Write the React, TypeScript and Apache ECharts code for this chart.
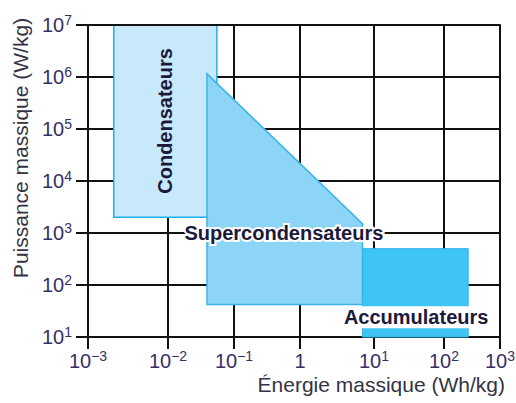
import { useEffect, useRef } from 'react';
import * as echarts from 'echarts';

// ---- Data -------------------------------------------------------------
// Energy axis decades (exponents of 10, Wh/kg) and power axis decades (W/kg)
const xTickExponents = [-3, -2, -1, 0, 1, 2, 3];
const yTickExponents = [1, 2, 3, 4, 5, 6, 7];
// The original figure's energy axis is hand drawn with unequal decade widths;
// cumulative decade widths (relative units) used as the axis scale.
const xDecadeScale = [0, 80, 146, 212, 286, 356, 412];

// Regions: [energy Wh/kg, power W/kg] vertices
const condensateurs = [
  [0.0021, 2000],
  [0.0021, 1e7],
  [0.055, 1e7],
  [0.055, 2000],
];
const supercondensateurs = [
  [0.039, 1.15e6],
  [7, 1500],
  [7, 42],
  [0.039, 42],
];
const accumulateurs = [
  [7, 10],
  [7, 500],
  [270, 500],
  [270, 10],
];
const regionNames = ['Condensateurs', 'Supercondensateurs', 'Accumulateurs'];
const regionLabelPoints = [
  [0.0092, 1.43e5],
  [0.57, 1000],
  [40, 24],
];

const xTitle = 'Énergie massique (Wh/kg)';
const yTitle = 'Puissance massique (W/kg)';

// ---- Helpers ----------------------------------------------------------
function warpX(e: number): number {
  const l = Math.log10(e);
  let i = Math.floor(l - xTickExponents[0]);
  if (i < 0) i = 0;
  if (i > xTickExponents.length - 2) i = xTickExponents.length - 2;
  const t = l - xTickExponents[i];
  return xDecadeScale[i] + t * (xDecadeScale[i + 1] - xDecadeScale[i]);
}

function supText(exp: number): string {
  if (exp === 0) return '{b|1}';
  const s = exp < 0 ? '\u2212' + -exp : String(exp);
  return '{b|10}{s|' + s + '}';
}

const TICK_FONT = "'Liberation Sans Narrow', 'Arial Narrow', 'Liberation Sans', Arial, sans-serif";
const FONT = "'Liberation Sans', Arial, sans-serif";
const tickColor = '#362f66';
const lineColor = '#111111';

const rich = {
  b: { fontSize: 20, lineHeight: 24, fontFamily: TICK_FONT, color: tickColor },
  s: { fontSize: 14, lineHeight: 14, fontFamily: TICK_FONT, color: tickColor, verticalAlign: 'top' },
};

function regionSeries(name: string, pts: number[][], fill: string, stroke: string, lw: number, z: number) {
  return {
    type: 'custom',
    name,
    xAxisIndex: 0,
    yAxisIndex: 0,
    silent: true,
    z,
    data: pts.map(([e, p]) => [warpX(e), p]),
    renderItem: (params: any, api: any) => {
      if (params.dataIndex !== 0) return null;
      const points = pts.map(([e, p]) => api.coord([warpX(e), p]));
      return {
        type: 'polygon',
        shape: { points },
        style: { fill, stroke, lineWidth: lw, lineJoin: 'miter' },
      };
    },
  };
}

export default function App() {
  const ref = useRef<HTMLDivElement>(null);

  useEffect(() => {
    if (!ref.current) return;
    const chart = echarts.init(ref.current, null, { renderer: 'svg' });

    const option: any = {
      animation: false,
      backgroundColor: '#ffffff',
      textStyle: { fontFamily: FONT },
      grid: {
        left: 88,
        right: 16,
        top: 25,
        bottom: 66,
        containLabel: false,
        outerBoundsMode: 'none',
      },
      xAxis: [
        {
          type: 'value',
          min: 0,
          max: xDecadeScale[xDecadeScale.length - 1],
          position: 'bottom',
          axisLine: { show: true, onZero: false, lineStyle: { color: lineColor, width: 2 } },
          axisTick: {
            show: true,
            length: 12,
            customValues: xDecadeScale,
            lineStyle: { color: lineColor, width: 2 },
          },
          axisLabel: {
            show: true,
            customValues: xDecadeScale,
            margin: 12,
            showMinLabel: true,
            showMaxLabel: true,
            formatter: (v: number) => {
              let idx = 0;
              let best = Infinity;
              xDecadeScale.forEach((p, i) => {
                if (Math.abs(p - v) < best) {
                  best = Math.abs(p - v);
                  idx = i;
                }
              });
              return supText(xTickExponents[idx]);
            },
            rich,
          },
          splitLine: { show: true, lineStyle: { color: lineColor, width: 2 } },
        },
        {
          type: 'value',
          min: 0,
          max: xDecadeScale[xDecadeScale.length - 1],
          position: 'top',
          z: 10,
          axisLine: { show: true, onZero: false, lineStyle: { color: lineColor, width: 2 } },
          axisTick: { show: false },
          axisLabel: { show: false },
          splitLine: { show: false },
        },
      ],
      yAxis: [
        {
          type: 'log',
          logBase: 10,
          min: Math.pow(10, yTickExponents[0]),
          max: Math.pow(10, yTickExponents[yTickExponents.length - 1]),
          interval: 1,
          axisLine: { show: true, onZero: false, lineStyle: { color: lineColor, width: 2 } },
          axisTick: { show: true, length: 12, lineStyle: { color: lineColor, width: 2 } },
          axisLabel: {
            show: true,
            margin: 16,
            showMinLabel: true,
            showMaxLabel: true,
            formatter: (v: number) => supText(Math.round(Math.log10(v))),
            rich,
          },
          splitLine: { show: true, lineStyle: { color: lineColor, width: 2 } },
        },
      ],
      graphic: [
        {
          type: 'text',
          x: 505,
          y: 384,
          z: 20,
          style: {
            text: xTitle,
            fontSize: 21,
            fontFamily: FONT,
            fill: '#333344',
            align: 'right',
            verticalAlign: 'middle',
          },
        },
        {
          type: 'text',
          x: 20,
          y: 148,
          rotation: Math.PI / 2,
          z: 20,
          style: {
            text: yTitle,
            fontSize: 21,
            fontFamily: FONT,
            fill: '#333344',
            align: 'center',
            verticalAlign: 'middle',
          },
        },
      ],
      series: [
        regionSeries('Condensateurs', condensateurs, '#c8e9fb', '#1fb0ec', 1.5, 2),
        regionSeries('Supercondensateurs', supercondensateurs, '#8dd5f6', '#3ab5ea', 1.5, 3),
        regionSeries('Accumulateurs', accumulateurs, '#3ec5f4', '#2fb3ea', 1, 4),
        {
          type: 'custom',
          name: 'labels',
          silent: true,
          z: 6,
          data: regionLabelPoints.map(([e, p]) => [warpX(e), p]),
          renderItem: (params: any, api: any) => {
            const i = params.dataIndex;
            const [e, p] = regionLabelPoints[i];
            const pt = api.coord([warpX(e), p]);
            const isAcc = i === 2;
            return {
              type: 'text',
              x: pt[0],
              y: pt[1],
              rotation: i === 0 ? Math.PI / 2 : 0,
              style: {
                text: regionNames[i],
                fontSize: 20,
                fontWeight: 'bold',
                fontFamily: FONT,
                fill: '#1c1a3a',
                align: 'center',
                verticalAlign: 'middle',
                stroke: i === 0 ? undefined : '#ffffff',
                lineWidth: i === 0 ? 0 : 4,
                backgroundColor: isAcc ? '#ffffff' : undefined,
                padding: isAcc ? [1, 3, 1, 3] : 0,
              },
            };
          },
        },
      ],
    };

    chart.setOption(option);
    return () => {
      chart.dispose();
    };
  }, []);

  return (
    <div
      ref={ref}
      style={{ position: 'fixed', left: 0, top: 0, width: 516, height: 403 }}
    />
  );
}
